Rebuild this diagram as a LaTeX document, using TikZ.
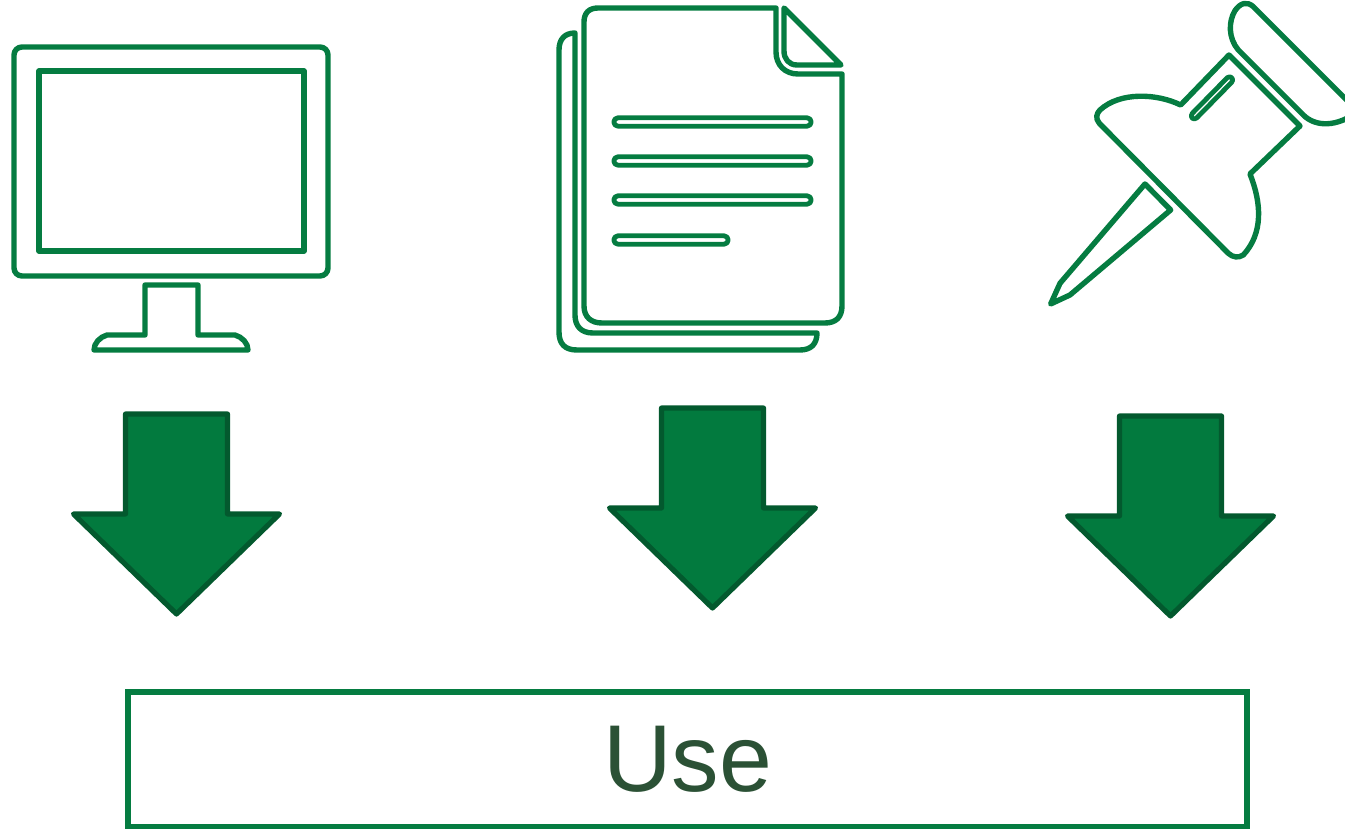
\documentclass[tikz,border=0pt]{standalone}
\usepackage{fontspec}
\setmainfont{Liberation Sans}
\definecolor{gline}{HTML}{057C41}
\definecolor{gfill}{HTML}{027A3E}
\definecolor{gdark}{HTML}{03592E}
\definecolor{gtext}{HTML}{2B5135}
\tikzset{
  icon/.style={draw=gline,line width=5.4pt,line join=round,line cap=round,fill=none},
  downarrow/.style={draw=gdark,fill=gfill,line width=5.2pt,line join=round},
  usebox/.style={draw=gline,line width=5.4pt,fill=none,rectangle,inner sep=0pt,outer sep=0pt,
    minimum width=1119pt,minimum height=135pt,text=gtext,font=\fontsize{95}{110}\selectfont},
  pics/bigarrow/.style={code={
    \draw[downarrow] (-51,0) -- (51,0) -- (51,100) -- (103,100) -- (0,200) -- (-103,100) -- (-51,100) -- cycle;
  }}
}
\begin{document}
\begin{tikzpicture}[x=1pt,y=-1pt]
\useasboundingbox (0,0) rectangle (1345,829);
\clip (0,0) rectangle (1345,829);
% monitor
\draw[icon,rounded corners=8pt] (14,47) rectangle (328,276);
\draw[icon] (39,71) rectangle (304,251);
\draw[icon] (145,335) -- (145,285) -- (198,285) -- (198,335) -- (235,335)
  .. controls (242,337) and (248,343) .. (248,350) -- (94,350)
  .. controls (94,343) and (100,337) .. (107,335) -- cycle;
% back page
\draw[icon] (575,33) .. controls (565,33) and (559,39) .. (559,50) -- (559,332)
  .. controls (559,344) and (565,350) .. (577,350) -- (800,350)
  .. controls (811,350) and (817,344) .. (817,333) -- (593,333)
  .. controls (581,333) and (575,326) .. (575,315) -- cycle;
% front page
\draw[icon] (776,8) -- (598,8) .. controls (589,8) and (584,13) .. (584,22) -- (584,306)
  .. controls (584,317) and (591,323) .. (602,323) -- (825,323)
  .. controls (836,323) and (842,317) .. (842,306) -- (842,74) -- (798,74)
  .. controls (785,74) and (776,65) .. (776,52) -- cycle;
\draw[icon] (784,8) -- (841,65) -- (797,65) .. controls (789,65) and (784,59) .. (784,51) -- cycle;
% text lines
\foreach \yy/\xe in {122/807,161/807,200/807,240/724}{
  \draw[icon,line width=4.8pt] (618,\yy-4.2) -- (\xe,\yy-4.2) arc[start angle=90,end angle=-90,radius=4.2pt]
    -- (618,\yy+4.2) arc[start angle=270,end angle=90,radius=4.2pt] -- cycle;
}
% push pin
\begin{scope}[shift={(1040,0)},x=0.3333pt,y=-0.3333pt]
  \draw[icon] (960,340) -- (640,20) .. controls (620,2) and (600,10) .. (585,32)
    .. controls (565,65) and (565,115) .. (595,150) -- (790,345)
    .. controls (825,380) and (890,385) .. (960,330);
  \draw[icon] (567,165) -- (780,378) -- (630,522)
    .. controls (665,610) and (670,700) .. (610,765)
    .. controls (595,775) and (578,772) .. (565,760) -- (178,370)
    .. controls (165,355) and (170,340) .. (180,330)
    .. controls (240,275) and (350,280) .. (422,315) -- cycle;
  \draw[icon,line width=4.8pt] (457,340) -- (562,233)
    .. controls (572,225) and (584,238) .. (575,247) -- (470,354)
    .. controls (460,363) and (448,350) .. (457,340) -- cycle;
  \draw[icon] (315,552) -- (392,630) -- (90,885) -- (32,912) -- (60,850) -- cycle;
\end{scope}
% arrows
\pic at (176.5,414) {bigarrow};
\pic at (712.5,408) {bigarrow};
\pic at (1170.5,416) {bigarrow};
% box
\node[usebox] (usenode) at (687.5,759.5) {Use};
\end{tikzpicture}
\end{document}
